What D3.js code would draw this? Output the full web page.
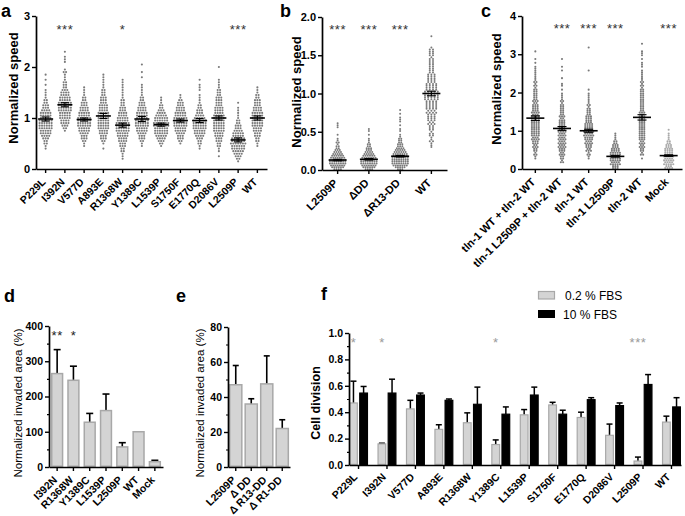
<!DOCTYPE html>
<html><head><meta charset="utf-8">
<script src="https://cdn.jsdelivr.net/npm/d3@7"></script>
<style>body{margin:0;background:#fff}svg{display:block}</style>
</head><body><svg id="c" width="685" height="516"></svg>
<script>
// ---------- DATA ----------
// Panel a: normalized speed (dot counts per 0.05 bin, starting at startA)
const catsA = ["P229L","I392N","V577D","A893E","R1368W","Y1389C","L1539P","S1750F","E1770Q","D2086V","L2509P","WT"];
const binA = 0.05;
const startA = [0.40,0.75,0.45,0.40,0.20,0.45,0.45,0.50,0.40,0.25,0.15,0.45];
const countsA = [
  [1,1,2,2,3,4,5,5,6,6,6,6,5,5,5,4,3,3,2,2,1,1,1,1,0,1,0,1,0,1],
  [1,2,3,4,4,5,5,5,6,6,6,6,5,5,4,4,3,2,2,2,1,1,1,2,1,0,0,1,1,1,0,1],
  [1,1,2,3,3,4,5,5,6,6,6,6,5,5,4,4,3,3,2,2,1,1,1,1],
  [1,0,1,2,3,3,4,4,5,5,5,5,5,5,5,4,4,4,3,3,3,2,2,2,1,1,1,1,1,1],
  [1,1,1,2,2,3,3,4,4,5,5,6,6,6,6,5,5,4,4,3,3,2,2,2,1,1,1,1,1,1,1,1],
  [1,1,2,3,3,4,5,5,6,6,6,5,5,5,4,4,3,3,2,2,1,1,1,1,1,0,0,1,0,1,0,0,1],
  [1,2,3,4,5,6,6,6,7,7,6,6,5,4,3,2,2,1,1,1],
  [1,2,3,3,4,5,5,6,6,6,6,5,5,4,4,3,3,2,1,1],
  [1,1,2,2,3,4,5,5,6,6,6,6,5,4,3,3,2,2,1,1,1,1,0,1,1,1,0,1],
  [1,0,1,1,2,2,3,3,4,4,5,5,5,5,5,5,5,4,4,4,3,3,3,3,2,2,2,1,1,1,1,0,0,0,0,1],
  [1,2,3,4,5,6,6,7,6,6,5,5,4,3,3,2,2,1,1,1,1,1,0,1],
  [1,1,2,2,3,3,4,4,5,5,5,5,5,5,4,4,3,3,3,2,2,1,1,1]
];
const meanA = [0.98,1.26,0.97,1.04,0.86,0.98,0.87,0.95,0.95,1.00,0.57,1.00];
const semA  = [0.04,0.04,0.03,0.05,0.04,0.05,0.03,0.03,0.04,0.04,0.04,0.04];
const starsA = ["","***","","","*","","","","","","***",""];
const ticksA = [0,1,2,3];

// Panel b (counts per 0.025 bin)
const catsB = ["L2509P","\u0394DD","\u0394R13-DD","WT"];
const binB = 0.025;
const startB = [0.01,0.01,0.01,0.30];
const countsB = [
  [4,6,7,8,8,8,7,6,5,4,3,2,2,1,2,1,1,0,1,0,0,0,1,1,1],
  [4,6,7,8,8,8,7,6,5,4,3,3,2,2,1,1,1,0,1,0,1,1],
  [3,5,7,8,8,8,8,7,7,6,5,4,3,3,2,2,2,1,1,0,1,1,0,1,0,1,1,1,0,1,0,1],
  [1,1,1,2,1,1,2,2,1,2,2,2,3,2,3,3,3,3,4,3,4,4,4,4,4,5,5,5,5,5,4,4,4,4,3,3,3,3,3,2,2,2,2,2,2,2,2,1,2,2,2,2,1,0,0,0,0,0,1]
];
const meanB = [0.13,0.14,0.18,1.00];
const semB  = [0.01,0.01,0.01,0.03];
const starsB = ["***","***","***",""];
const ticksB = [0,0.5,1.0,1.5,2.0];

// Panel c (counts per 0.1 bin)
const catsC = ["tln-1 WT + tln-2 WT","tln-1 L2509P + tln-2 WT","tln-1 WT","tln-1 L2509P","tln-2 WT","Mock"];
const binC = 0.1;
const startC = [0.3,0.2,0.3,0.05,0.3,0.05];
const countsC = [
  [2,3,4,5,6,7,8,8,8,8,8,7,7,6,5,5,4,4,3,3,3,2,2,2,1,1,1,0,1],
  [3,4,5,6,7,7,7,7,7,6,6,5,5,4,4,3,3,2,1,1,2,0,1,0,1,1,0,1],
  [2,3,5,6,7,8,9,9,8,7,6,5,4,3,3,2,2,1,1,0,0,0,0,1,0,0,0,0,0,1],
  [6,9,10,10,9,7,5,3,2,1],
  [1,3,4,5,5,6,6,6,6,6,6,5,5,4,4,4,4,4,3,3,3,2,2,1,2,1,1,2,1,0,1],
  [7,9,9,9,8,7,5,3,2,1,1]
];
const meanC = [1.33,1.06,1.00,0.33,1.35,0.35];
const semC  = [0.06,0.05,0.04,0.02,0.07,0.02];
const starsC = ["","***","***","***","","***"];
const ticksC = [0,1,2,3,4];

// Panel d
const catsD = ["I392N","R1368W","Y1389C","L1539P","L2509P","WT","Mock"];
const valD = [265,246,127,160,57,100,15];
const errD = [68,40,25,47,12,0,4];
const starsD = ["**","*","","","","",""];
const ticksD = [0,100,200,300,400];

// Panel e
const catsE = ["L2509P","\u0394 DD","\u0394 R13-DD","\u0394 R1-DD"];
const valE = [47,36,47.5,22];
const errE = [11,3,16,5];
const ticksE = [0,20,40,60,80];

// Panel f
const catsF = ["P229L","I392N","V577D","A893E","R1368W","Y1389C","L1539P","S1750F","E1770Q","D2086V","L2509P","WT"];
const seriesF = ["0.2 % FBS","10 % FBS"];
const lowF = [0.47,0.16,0.425,0.27,0.32,0.155,0.38,0.455,0.36,0.225,0.03,0.325];
const lowErrF = [0.165,0.005,0.065,0.035,0.075,0.035,0.04,0.02,0.04,0.085,0.03,0.045];
const highF = [0.545,0.545,0.53,0.49,0.46,0.385,0.53,0.385,0.495,0.45,0.61,0.44];
const highErrF = [0.05,0.105,0.015,0.01,0.13,0.055,0.06,0.03,0.015,0.02,0.075,0.07];
const starsF = ["*","*","","","","*","","","","","***",""];
const ticksF = [0,0.2,0.4,0.6,0.8,1.0];

// ---------- DRAWING ----------
const FONT = '"Liberation Sans", Arial, Helvetica, sans-serif';
const svg = d3.select("#c");
const BAR_FILL = "#d4d4d4", BAR_STROKE = "#a8a8a8";
const DOT = "#7a7a7a";

function yAxis(x0, y, ticks, fmt, fs, minor){
  const g = svg.append("g").attr("transform", `translate(${x0},0)`);
  if (minor) {
    const m = g.append("g").call(d3.axisLeft(y).tickValues(minor).tickSize(2).tickFormat(""));
    m.select(".domain").remove();
    m.selectAll("line").attr("stroke","#000").attr("stroke-width",1.2);
  }
  const ax = g.append("g").call(d3.axisLeft(y).tickValues(ticks).tickSize(4).tickSizeOuter(0).tickPadding(2).tickFormat(fmt));
  ax.select(".domain").attr("stroke","#000").attr("stroke-width",1.7);
  ax.selectAll(".tick line").attr("stroke","#000").attr("stroke-width",1.4);
  ax.selectAll("text").attr("font-family",FONT).attr("font-weight","bold").attr("font-size",fs).attr("fill","#000");
}
function xAxis(y0, x, fs, dx, dy){
  const axis = d3.axisBottom(x).tickSize(4).tickSizeOuter(0);
  const ax = svg.append("g").attr("transform", `translate(0,${y0})`).call(axis);
  ax.select(".domain").attr("stroke","#000").attr("stroke-width",1.7);
  ax.selectAll(".tick line").attr("stroke","#000").attr("stroke-width",1.4);
  ax.selectAll("text").attr("x",0).attr("y",0).attr("dy","0.35em")
    .attr("transform", `translate(${dx},${dy}) rotate(-45)`)
    .attr("text-anchor","end").attr("font-family",FONT).attr("font-weight","bold")
    .attr("font-size",fs).attr("fill","#000");
  return ax;
}
function yLabel(x, yc, text, fs, weight){
  svg.append("text").attr("transform", `translate(${x},${yc}) rotate(-90)`)
    .attr("text-anchor","middle").attr("font-family",FONT).attr("font-weight",weight)
    .attr("font-size",fs).attr("fill","#000").text(text);
}
function letter(x, y, t){
  svg.append("text").attr("x",x).attr("y",y).attr("font-family",FONT).attr("font-weight","bold")
    .attr("font-size",18).attr("fill","#000").text(t);
}
function starsAt(xs, arr, yBase, color){
  arr.forEach((s,i)=>{
    if(!s) return;
    svg.append("text").attr("x", xs[i]).attr("y", yBase)
      .attr("text-anchor","middle").attr("font-family",FONT).attr("font-size",13)
      .attr("letter-spacing","0.5px").attr("fill",color).text(s);
  });
}
function centers(x, cats){ return cats.map(c=>x(c)+x.bandwidth()/2); }
function scatter(x, y, cats, starts, counts, bin, spFn, r, colorFn, sub){
  const pts = [];
  cats.forEach((c,i)=>{
    const cx = x(c) + x.bandwidth()/2;
    const sp = spFn(i);
    counts[i].forEach((n,k)=>{
      const v = starts[i] + k*bin;
      if (sub) {
        const nTop = Math.ceil(n/2), nBot = Math.floor(n/2);
        for (let j=0;j<n;j++){
          const row = j%2, idx = Math.floor(j/2), m = row===0 ? nTop : nBot;
          const off = row===0 ? -bin/4 : bin/4;
          pts.push({x: cx + (idx-(m-1)/2)*sp, y: y(v+off), c: colorFn(i)});
        }
      } else {
        for (let j=0;j<n;j++) pts.push({x: cx + (j-(n-1)/2)*sp, y: y(v), c: colorFn(i)});
      }
    });
  });
  svg.append("g").selectAll("circle").data(pts).join("circle")
    .attr("cx",d=>d.x).attr("cy",d=>d.y).attr("r",r).attr("fill",d=>d.c);
}
function means(x, y, cats, mean, sem, mw, cw){
  const g = svg.append("g").attr("stroke","#000");
  cats.forEach((c,i)=>{
    const cx = x(c)+x.bandwidth()/2;
    g.append("line").attr("x1",cx-mw/2).attr("x2",cx+mw/2).attr("y1",y(mean[i])).attr("y2",y(mean[i])).attr("stroke-width",1.6);
    g.append("line").attr("x1",cx).attr("x2",cx).attr("y1",y(mean[i]-sem[i])).attr("y2",y(mean[i]+sem[i])).attr("stroke-width",1.1);
    [mean[i]-sem[i], mean[i]+sem[i]].forEach(v=>{
      g.append("line").attr("x1",cx-cw/2).attr("x2",cx+cw/2).attr("y1",y(v)).attr("y2",y(v)).attr("stroke-width",1.1);
    });
  });
}
function bars(x, y, cats, vals, errs, cw, fill, stroke){
  const g = svg.append("g");
  const bw = x.bandwidth();
  cats.forEach((c,i)=>{
    const bx = x(c);
    if (errs[i] > 0) {
      const cx = bx + bw/2;
      g.append("line").attr("x1",cx).attr("x2",cx).attr("y1",y(vals[i])).attr("y2",y(vals[i]+errs[i])).attr("stroke","#000").attr("stroke-width",1.6);
      g.append("line").attr("x1",cx-cw/2).attr("x2",cx+cw/2).attr("y1",y(vals[i]+errs[i])).attr("y2",y(vals[i]+errs[i])).attr("stroke","#000").attr("stroke-width",1.6);
    }
    g.append("rect").attr("x",bx+0.75).attr("y",y(vals[i])).attr("width",bw-1.5)
      .attr("height",Math.max(0,y(0)-y(vals[i])-0.75)).attr("fill",fill).attr("stroke",stroke).attr("stroke-width",1.5);
  });
}

// ----- Panel a -----
{
  const x = d3.scaleBand().domain(catsA).range([36,267]);
  const y = d3.scaleLinear().domain([0,3]).range([169,16]);
  scatter(x, y, catsA, startA, countsA, binA, ()=>2.4, 1.05, ()=>DOT, false);
  means(x, y, catsA, meanA, semA, 15, 8);
  yAxis(36, y, ticksA, d3.format("d"), 11);
  xAxis(169, x, 10.5, -2, 11);
  yLabel(18, 88, "Normalized speed", 13, "bold");
  starsAt(centers(x, catsA), starsA, 33.5, "#333");
  letter(1, 17, "a");
}
// ----- Panel b -----
{
  const x = d3.scaleBand().domain(catsB).range([322,447]);
  const y = d3.scaleLinear().domain([0,2]).range([170,17]);
  scatter(x, y, catsB, startB, countsB, binB, i=> i===3 ? 3.2 : 2.2, 1.0, ()=>DOT, false);
  means(x, y, catsB, meanB, semB, 18, 9);
  yAxis(322, y, ticksB, d3.format(".1f"), 11);
  xAxis(170, x, 11, -2, 11);
  yLabel(301, 92, "Normalized speed", 13, "bold");
  starsAt(centers(x, catsB), starsB, 33.5, "#333");
  letter(280, 17, "b");
}
// ----- Panel c -----
{
  const x = d3.scaleBand().domain(catsC).range([522,682]);
  const y = d3.scaleLinear().domain([0,4]).range([169,16]);
  scatter(x, y, catsC, startC, countsC, binC, ()=>2.3, 1.05, i=> i===5 ? "#aaaaaa" : DOT, true);
  means(x, y, catsC, meanC, semC, 18, 9);
  yAxis(522, y, ticksC, d3.format("d"), 11);
  xAxis(169, x, 11, -2, 11);
  yLabel(501, 89, "Normalized speed", 13, "bold");
  starsAt(centers(x, catsC), starsC, 32.5, "#333");
  letter(481, 17, "c");
}
// ----- Panel d -----
{
  const x = d3.scaleBand().domain(catsD).range([49,163]).paddingInner(0.24).paddingOuter(0.12);
  const y = d3.scaleLinear().domain([0,400]).range([467,326]);
  bars(x, y, catsD, valD, errD, 7, BAR_FILL, BAR_STROKE);
  yAxis(49, y, ticksD, d3.format("d"), 10.5, [50,150,250,350]);
  xAxis(467, x, 10.5, -2, 11);
  yLabel(22, 403, "Normalized invaded area (%)", 11.5, "normal");
  starsAt(centers(x, catsD), starsD, 339.5, "#222");
  letter(4, 302, "d");
}
// ----- Panel e -----
{
  const x = d3.scaleBand().domain(catsE).range([228,290]).paddingInner(0.12).paddingOuter(0.06);
  const y = d3.scaleLinear().domain([0,80]).range([467,327]);
  bars(x, y, catsE, valE, errE, 6, BAR_FILL, BAR_STROKE);
  yAxis(228, y, ticksE, d3.format("d"), 10.5, [10,30,50,70]);
  xAxis(467, x, 10.5, -2, 11);
  yLabel(204, 403, "Normalized invaded area (%)", 11.5, "normal");
  letter(176, 302, "e");
}
// ----- Panel f -----
{
  const x0 = d3.scaleBand().domain(catsF).range([349,681]).paddingInner(0.33).paddingOuter(0);
  const x1 = d3.scaleBand().domain(seriesF).range([0, x0.bandwidth()]).paddingInner(0.12);
  const y = d3.scaleLinear().domain([0,1]).range([465,333]);
  const gw = x1.bandwidth();
  const g = svg.append("g");
  catsF.forEach((c,i)=>{
    [[lowF[i],lowErrF[i],BAR_FILL,BAR_STROKE,x1(seriesF[0])],[highF[i],highErrF[i],"#000","#000",x1(seriesF[1])]].forEach(([v,e,f,s,o])=>{
      const bx = x0(c)+o, cx = bx+gw/2;
      g.append("line").attr("x1",cx).attr("x2",cx).attr("y1",y(v)).attr("y2",y(v+e)).attr("stroke","#000").attr("stroke-width",1.5);
      g.append("line").attr("x1",cx-3).attr("x2",cx+3).attr("y1",y(v+e)).attr("y2",y(v+e)).attr("stroke","#000").attr("stroke-width",1.5);
      g.append("rect").attr("x",bx+0.6).attr("y",y(v)).attr("width",gw-1.2).attr("height",Math.max(0,y(0)-y(v)-0.6))
        .attr("fill",f).attr("stroke",s).attr("stroke-width",1.2);
    });
  });
  yAxis(349, y, ticksF, d3.format(".1f"), 10.5, [0.1,0.3,0.5,0.7,0.9]);
  xAxis(465, x0, 10.5, -3, 10);
  yLabel(320, 403, "Cell division", 12.5, "bold");
  starsAt(catsF.map(c=>x0(c)+x1(seriesF[0])+gw/2), starsF, 346.5, "#9a9a9a");
  letter(321, 300, "f");
  // legend
  const lg = svg.append("g");
  lg.append("rect").attr("x",538.5).attr("y",291.5).attr("width",16).attr("height",7.5).attr("fill",BAR_FILL).attr("stroke",BAR_STROKE).attr("stroke-width",1.2);
  lg.append("rect").attr("x",538).attr("y",310).attr("width",17).attr("height",8).attr("fill","#000");
  lg.append("text").attr("x",565).attr("y",300).attr("font-family",FONT).attr("font-size",12).attr("fill","#000").text(seriesF[0]);
  lg.append("text").attr("x",563).attr("y",318.5).attr("font-family",FONT).attr("font-size",12).attr("fill","#000").text(seriesF[1]);
}
</script></body></html>
